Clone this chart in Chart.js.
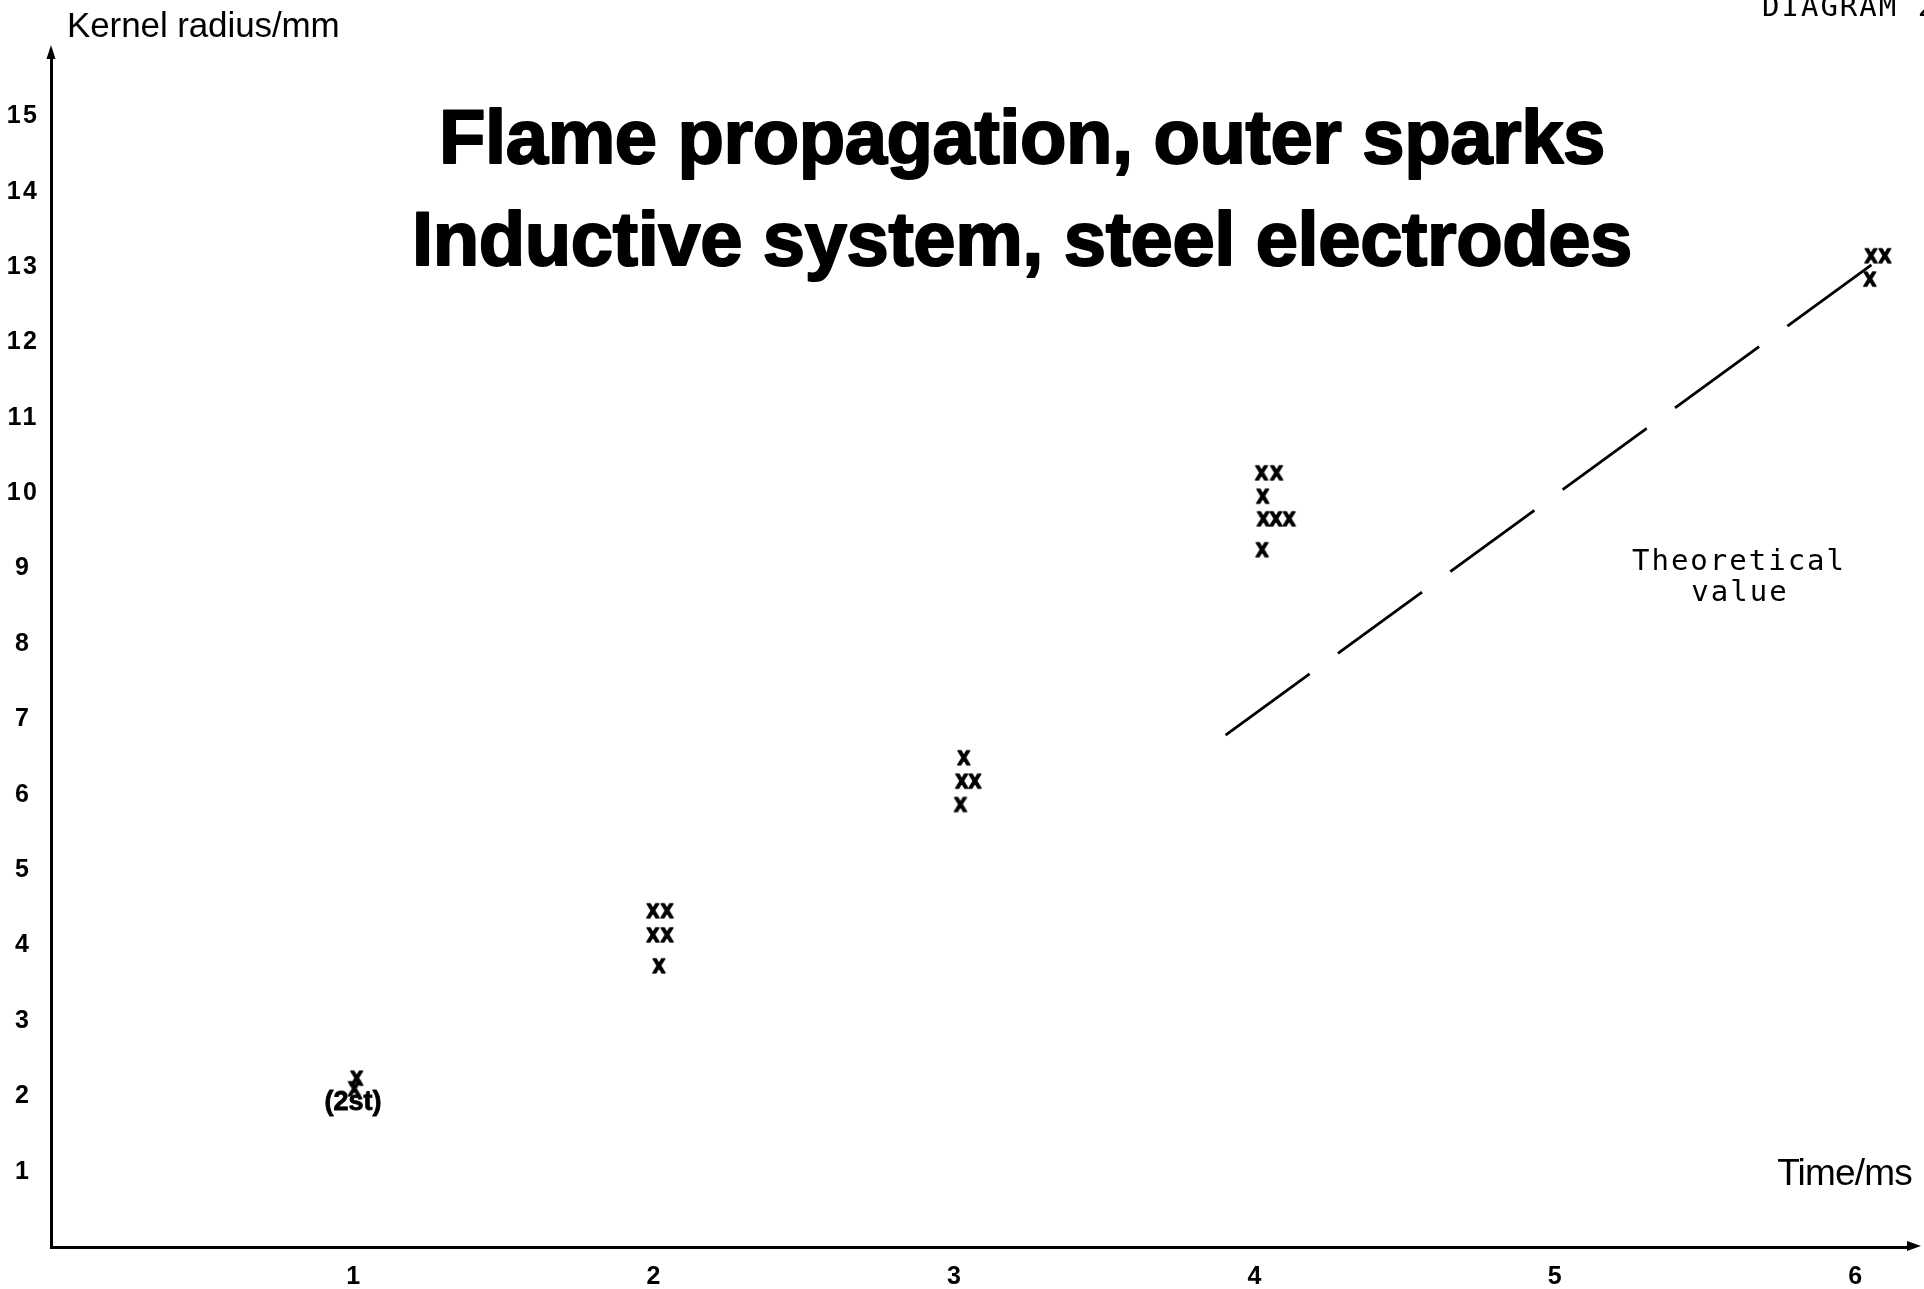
<!DOCTYPE html>
<html>
<head>
<meta charset="utf-8">
<title>Flame propagation, outer sparks</title>
<script src="https://cdn.jsdelivr.net/npm/chart.js@4.4.1/dist/chart.umd.min.js"></script>
<style>
  html, body { margin: 0; padding: 0; background: #fff; }
  canvas { display: block; }
</style>
</head>
<body>
<canvas id="chart" width="1924" height="1289"></canvas>
<script>
// Measured kernel radius (mm) against time after spark (ms); one entry per "x".
const measuredTime = [
  1.008, 1.000,
  1.994, 2.041, 1.994, 2.041, 2.014,
  3.029, 3.022, 3.066, 3.018,
  4.020, 4.070, 4.024, 4.026, 4.068, 4.112, 4.022,
  6.049, 6.095, 6.045
];
const measuredRadius = [
  2.24, 2.10,
  4.46, 4.46, 4.14, 4.14, 3.73,
  6.49, 6.18, 6.18, 5.87,
  10.27, 10.27, 9.96, 9.66, 9.66, 9.66, 9.25,
  13.15, 13.15, 12.84
];

// Theoretical growth line
const theoryTime = [3.90, 6.05];
const theoryRadius = [6.79, 13.03];

// Axis tick labels
const timeTicks = [1, 2, 3, 4, 5, 6];
const radiusTicks = [1, 2, 3, 4, 5, 6, 7, 8, 9, 10, 11, 12, 13, 14, 15];

const titleLines = ['Flame propagation, outer sparks', 'Inductive system, steel electrodes'];

const SANS = '"Liberation Sans", Arial, Helvetica, sans-serif';
const MONO = '"DejaVu Sans Mono", monospace';

const measuredPoints = measuredTime.map((t, i) => ({ x: t, y: measuredRadius[i] }));
const theoryPoints = theoryTime.map((t, i) => ({ x: t, y: theoryRadius[i] }));

// Point marker: a bold lowercase "x", centred on its own ink
function makeXMarker() {
  const c = document.createElement('canvas');
  c.width = 24;
  c.height = 24;
  const g = c.getContext('2d');
  g.fillStyle = '#000';
  g.strokeStyle = '#000';
  g.font = 'bold 25px ' + SANS;
  g.textAlign = 'center';
  g.textBaseline = 'alphabetic';
  const m = g.measureText('x');
  const inkH = m.actualBoundingBoxAscent + m.actualBoundingBoxDescent;
  const base = 12 + inkH / 2 - m.actualBoundingBoxDescent;
  g.save();
  g.translate(12, 0);
  g.scale(0.92, 1);
  g.lineWidth = 1.3;
  g.lineJoin = 'round';
  g.fillText('x', 0, base);
  g.strokeText('x', 0, base);
  g.restore();
  return c;
}
const xMarker = makeXMarker();

// Wider digit spacing for the axis numbers, reset before the marks are drawn
const tickSpacing = {
  id: 'tickSpacing',
  beforeDraw(chart) { chart.ctx.letterSpacing = '2.5px'; },
  beforeDatasetsDraw(chart) { chart.ctx.letterSpacing = '0px'; }
};

// Arrowheads, axis names, title and the typed notes
const decorations = {
  id: 'decorations',
  afterDraw(chart) {
    const { ctx, chartArea: a } = chart;
    ctx.save();
    ctx.letterSpacing = '0px';
    ctx.fillStyle = '#000';
    ctx.strokeStyle = '#000';

    // y axis arrow
    ctx.lineWidth = 3;
    ctx.beginPath();
    ctx.moveTo(a.left, a.top + 1);
    ctx.lineTo(a.left, 56);
    ctx.stroke();
    ctx.beginPath();
    ctx.moveTo(a.left, 45);
    ctx.lineTo(a.left - 4.5, 59);
    ctx.lineTo(a.left + 4.5, 59);
    ctx.closePath();
    ctx.fill();

    // x axis arrow
    ctx.beginPath();
    ctx.moveTo(a.right - 1, a.bottom);
    ctx.lineTo(1910, a.bottom);
    ctx.stroke();
    ctx.beginPath();
    ctx.moveTo(1921, a.bottom - 1);
    ctx.lineTo(1907, a.bottom - 6);
    ctx.lineTo(1907, a.bottom + 4);
    ctx.closePath();
    ctx.fill();

    // axis names
    ctx.textAlign = 'left';
    ctx.textBaseline = 'alphabetic';
    ctx.font = '35px ' + SANS;
    ctx.letterSpacing = '-0.1px';
    ctx.fillText('Kernel radius/mm', 67, 37);
    ctx.textAlign = 'right';
    ctx.font = '37px ' + SANS;
    ctx.letterSpacing = '-0.8px';
    ctx.fillText('Time/ms', 1912, 1185);

    // title
    ctx.textAlign = 'center';
    ctx.font = 'bold 76px ' + SANS;
    ctx.letterSpacing = '-0.4px';
    ctx.lineWidth = 2;
    ctx.lineJoin = 'round';
    titleLines.forEach((line, i) => {
      const by = 163 + i * 102;
      ctx.fillText(line, 1022, by);
      ctx.strokeText(line, 1022, by);
    });
    ctx.letterSpacing = '0px';

    // count note under the first pair of readings
    ctx.font = 'bold 27px ' + SANS;
    ctx.lineWidth = 0.8;
    ctx.fillText('(2st)', 353, 1110);
    ctx.strokeText('(2st)', 353, 1110);

    // typed notes
    ctx.font = '29px ' + MONO;
    ctx.letterSpacing = '2px';
    ctx.fillText('Theoretical', 1739, 570);
    ctx.fillText('value', 1740, 601);
    ctx.textAlign = 'left';
    ctx.fillText('DIAGRAM 2', 1762, 16);
    ctx.restore();
  }
};

new Chart(document.getElementById('chart'), {
  data: {
    datasets: [
      {
        type: 'scatter',
        label: 'Measured',
        data: measuredPoints,
        pointStyle: xMarker,
        pointRadius: 7,
        pointHoverRadius: 7,
        borderColor: '#000',
        backgroundColor: '#000'
      },
      {
        type: 'line',
        label: 'Theoretical value',
        data: theoryPoints,
        borderColor: '#000',
        borderWidth: 2.8,
        borderDash: [104, 35],
        pointRadius: 0,
        fill: false,
        tension: 0
      }
    ]
  },
  options: {
    responsive: false,
    devicePixelRatio: 1,
    animation: false,
    events: [],
    layout: { padding: { top: 56, right: 16.5, left: 0, bottom: 0 } },
    plugins: {
      legend: { display: false },
      title: { display: false },
      tooltip: { enabled: false }
    },
    scales: {
      x: {
        type: 'linear',
        min: -0.01,
        max: 6.17,
        afterBuildTicks: s => { s.ticks = timeTicks.map(v => ({ value: v })); },
        afterFit: s => { s.height = 42; },
        grid: { display: false, drawTicks: false },
        border: { display: true, color: '#000', width: 3 },
        ticks: {
          color: '#000',
          padding: 15,
          font: { family: SANS, size: 25, weight: 'bold' }
        }
      },
      y: {
        type: 'linear',
        min: 0,
        max: 15.8,
        afterBuildTicks: s => { s.ticks = radiusTicks.map(v => ({ value: v })); },
        afterFit: s => { s.width = 51; },
        grid: { display: false, drawTicks: false },
        border: { display: true, color: '#000', width: 3 },
        ticks: {
          color: '#000',
          padding: 14,
          crossAlign: 'center',
          font: { family: SANS, size: 25, weight: 'bold' }
        }
      }
    }
  },
  plugins: [tickSpacing, decorations]
});
</script>
</body>
</html>
